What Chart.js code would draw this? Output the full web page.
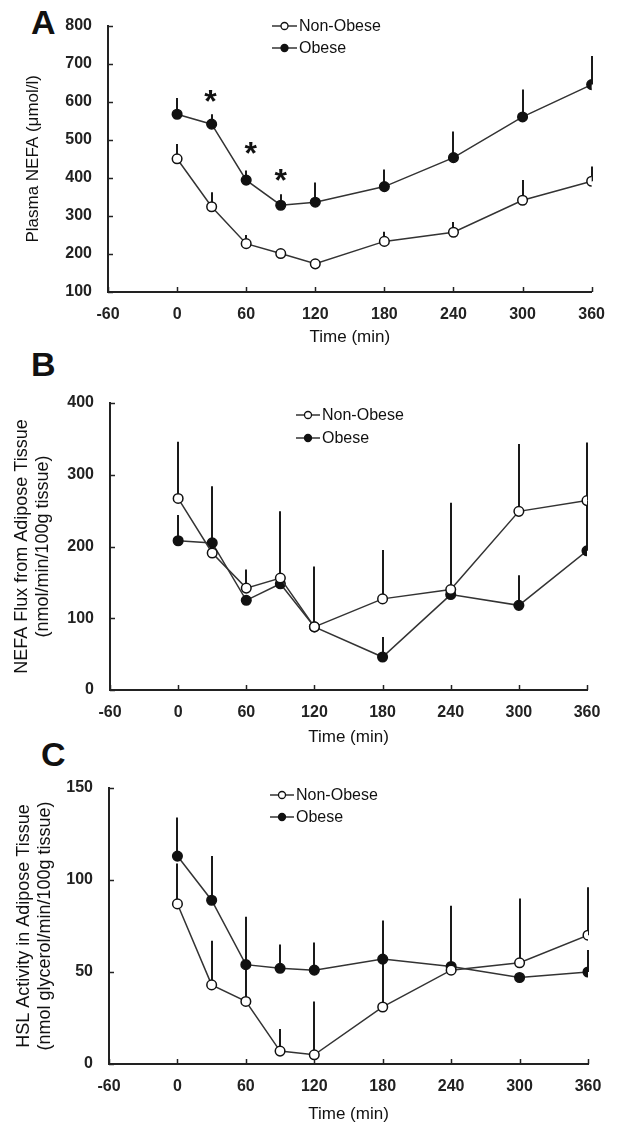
<!DOCTYPE html>
<html>
<head>
<meta charset="utf-8">
<script src="https://cdn.jsdelivr.net/npm/chart.js@4.4.0/dist/chart.umd.min.js"></script>
<style>
  html, body { margin: 0; padding: 0; background: #fff; }
  body { width: 618px; height: 1127px; position: relative; overflow: hidden; }
  canvas { position: absolute; left: 0; top: 0; }
  .tag { position: absolute; font: bold 34px "Liberation Sans", Arial, sans-serif; line-height: 34px; color: #111; }
</style>
</head>
<body>
<div class="tag" style="left:31px;top:5px">A</div>
<div class="tag" style="left:31px;top:347px">B</div>
<div class="tag" style="left:41px;top:737px">C</div>
<canvas id="chartA" width="618" height="1127"></canvas>
<canvas id="chartB" width="618" height="1127"></canvas>
<canvas id="chartC" width="618" height="1127"></canvas>
<script>
// sampling times (min) and x tick labels
const times = [0, 30, 60, 90, 120, 180, 240, 300, 360];
const timeTicks = [-60, 0, 60, 120, 180, 240, 300, 360];

// A: plasma NEFA (umol/l), mean and upper SEM
const nefaNonObese = [450, 324, 227, 201, 174, 233, 257, 341, 391];
const nefaNonObeseSem = [39, 38, 23, 10, null, 25, 27, 53, 39];
const nefaObese = [567, 541, 394, 328, 336, 377, 453, 560, 645];
const nefaObeseSem = [43, 26, 25, 29, 52, 45, 69, 72, 75];
const nefaTicks = [100, 200, 300, 400, 500, 600, 700, 800];
// significance stars
const starTimes = [29, 64, 90];
const starLevels = [615, 477, 408];

// B: NEFA flux from adipose tissue
const fluxNonObese = [267, 191, 142, 156, 88, 127, 140, 249, 264];
const fluxNonObeseSem = [79, 93, 26, 93, 84, 68, 121, 94, 81];
const fluxObese = [208, 205, 125, 148, 88, 46, 133, 118, 194];
const fluxObeseSem = [36, null, null, null, null, 28, null, 42, 70];
const fluxTicks = [0, 100, 200, 300, 400];

// C: HSL activity in adipose tissue
const hslNonObese = [87, 43, 34, 7, 5, 31, 51, 55, 70];
const hslNonObeseSem = [22, 24, 46, 12, 29, 47, 35, 35, 26];
const hslObese = [113, 89, 54, 52, 51, 57, 53, 47, 50];
const hslObeseSem = [21, 24, null, 13, 15, null, null, null, 12];
const hslTicks = [0, 50, 100, 150];

const FONT = '"Liberation Sans", Arial, sans-serif';
Chart.defaults.font.family = FONT;
Chart.defaults.color = '#111';

// vertical error bars (upper side only), drawn under the markers
const errorBars = {
  id: 'errorBars',
  beforeDatasetsDraw(chart) {
    const ctx = chart.ctx, xs = chart.scales.x, ys = chart.scales.y;
    ctx.save();
    ctx.strokeStyle = '#1a1a1a';
    ctx.lineWidth = 2;
    chart.data.datasets.forEach(ds => {
      if (!ds.sem) return;
      ds.data.forEach((p, i) => {
        const e = ds.sem[i];
        if (e == null) return;
        const px = Math.round(xs.getPixelForValue(p.x));
        ctx.beginPath();
        ctx.moveTo(px, ys.getPixelForValue(p.y));
        ctx.lineTo(px, ys.getPixelForValue(p.y + e));
        ctx.stroke();
      });
    });
    ctx.restore();
  }
};

// small tick marks pointing into the plot
const innerTicks = {
  id: 'innerTicks',
  afterDraw(chart) {
    const ctx = chart.ctx, xs = chart.scales.x, ys = chart.scales.y, a = chart.chartArea;
    ctx.save();
    ctx.strokeStyle = '#222';
    ctx.lineWidth = 1.5;
    xs.ticks.forEach(t => {
      const px = Math.round(xs.getPixelForValue(t.value)) + 0.5;
      ctx.beginPath(); ctx.moveTo(px, a.bottom); ctx.lineTo(px, a.bottom - 5); ctx.stroke();
    });
    ys.ticks.forEach(t => {
      const py = Math.round(ys.getPixelForValue(t.value)) + 0.5;
      ctx.beginPath(); ctx.moveTo(a.left, py); ctx.lineTo(a.left + 5, py); ctx.stroke();
    });
    ctx.restore();
  }
};

// legend drawn at a fixed spot inside the plot
const boxLegend = {
  id: 'boxLegend',
  afterDraw(chart, args, o) {
    const ctx = chart.ctx;
    ctx.save();
    chart.data.datasets.forEach((ds, i) => {
      if (!ds.label) return;
      const y = o.y + i * o.gap;
      ctx.strokeStyle = '#333'; ctx.lineWidth = 1.5;
      ctx.beginPath(); ctx.moveTo(o.x, y); ctx.lineTo(o.x + o.len, y); ctx.stroke();
      ctx.beginPath(); ctx.arc(o.x + o.len / 2, y, 3.5, 0, Math.PI * 2);
      ctx.fillStyle = ds.pointBackgroundColor; ctx.fill();
      ctx.lineWidth = 1.3; ctx.strokeStyle = '#111'; ctx.stroke();
      ctx.fillStyle = '#111';
      ctx.font = '16px ' + FONT;
      ctx.textBaseline = 'middle';
      ctx.fillText(ds.label, o.x + o.len + 2, y + 1);
    });
    ctx.restore();
  }
};

// asterisks for significant differences
const stars = {
  id: 'stars',
  afterDatasetsDraw(chart, args, o) {
    if (!o.xs) return;
    const ctx = chart.ctx, xs = chart.scales.x, ys = chart.scales.y;
    ctx.save();
    ctx.fillStyle = '#111';
    ctx.font = 'bold 32px ' + FONT;
    ctx.textAlign = 'center';
    ctx.textBaseline = 'middle';
    o.xs.forEach((t, i) => {
      ctx.fillText('*', xs.getPixelForValue(t), ys.getPixelForValue(o.ys[i]) + 7);
    });
    ctx.restore();
  }
};

function series(label, vals, sem, open) {
  return {
    label: label,
    data: times.map((t, i) => ({ x: t, y: vals[i] })),
    sem: sem,
    borderColor: '#333',
    borderWidth: 1.5,
    pointRadius: 4.8,
    pointBorderWidth: 1.5,
    pointBorderColor: '#111',
    pointBackgroundColor: open ? '#fff' : '#111',
    tension: 0
  };
}

function panel(id, p) {
  const H = 1127;
  new Chart(document.getElementById(id), {
    type: 'line',
    data: {
      datasets: [
        series('Non-Obese', p.nonObese, p.nonObeseSem, true),
        series('Obese', p.obese, p.obeseSem, false)
      ]
    },
    options: {
      responsive: false,
      animation: false,
      layout: { padding: { left: 0, top: p.area.top, right: 618 - p.area.right, bottom: H - p.boxBottom } },
      plugins: {
        legend: { display: false },
        tooltip: { enabled: false },
        boxLegend: p.legend,
        stars: p.stars || {}
      },
      scales: {
        x: {
          type: 'linear',
          min: -60, max: 360,
          afterBuildTicks: s => { s.ticks = timeTicks.map(v => ({ value: v })); },
          afterFit: s => { s.height = p.boxBottom - p.area.bottom; },
          grid: { display: false, drawTicks: false },
          border: { color: '#222', width: 2 },
          ticks: { font: { size: 16, weight: 'bold' }, padding: 13, color: '#222' },
          title: { display: true, text: 'Time (min)', font: { size: 17 }, padding: { top: 0, bottom: 0 }, color: '#111' }
        },
        y: {
          min: p.ticks[0], max: p.ticks[p.ticks.length - 1],
          afterBuildTicks: s => { s.ticks = p.ticks.map(v => ({ value: v })); },
          afterFit: s => { s.width = p.area.left; },
          grid: { display: false, drawTicks: false },
          border: { color: '#222', width: 2 },
          ticks: { font: { size: 16, weight: 'bold' }, padding: 16, color: '#222' },
          title: { display: true, text: p.yTitle, font: { size: p.yTitleSize }, padding: { top: p.yTitlePad, bottom: 0 }, color: '#111' }
        }
      }
    },
    plugins: [errorBars, innerTicks, boxLegend, stars]
  });
}

panel('chartA', {
  nonObese: nefaNonObese, nonObeseSem: nefaNonObeseSem,
  obese: nefaObese, obeseSem: nefaObeseSem,
  ticks: nefaTicks,
  area: { left: 108, right: 598, top: 17, bottom: 292 },
  boxBottom: 348,
  yTitle: 'Plasma NEFA (\u03bcmol/l)', yTitleSize: 17, yTitlePad: 23,
  legend: { x: 272, len: 25, y: 26, gap: 22 },
  stars: { xs: starTimes, ys: starLevels }
});

panel('chartB', {
  nonObese: fluxNonObese, nonObeseSem: fluxNonObeseSem,
  obese: fluxObese, obeseSem: fluxObeseSem,
  ticks: fluxTicks,
  area: { left: 110, right: 587, top: 403, bottom: 690 },
  boxBottom: 748,
  yTitle: ['NEFA Flux from Adipose Tissue', '(nmol/min/100g tissue)'], yTitleSize: 18, yTitlePad: 11,
  legend: { x: 296, len: 24, y: 415, gap: 23 }
});

panel('chartC', {
  nonObese: hslNonObese, nonObeseSem: hslNonObeseSem,
  obese: hslObese, obeseSem: hslObeseSem,
  ticks: hslTicks,
  area: { left: 109, right: 588, top: 788, bottom: 1064 },
  boxBottom: 1125,
  yTitle: ['HSL Activity in Adipose Tissue', '(nmol glycerol/min/100g tissue)'], yTitleSize: 18, yTitlePad: 13,
  legend: { x: 270, len: 24, y: 795, gap: 22 }
});
</script>
</body>
</html>
